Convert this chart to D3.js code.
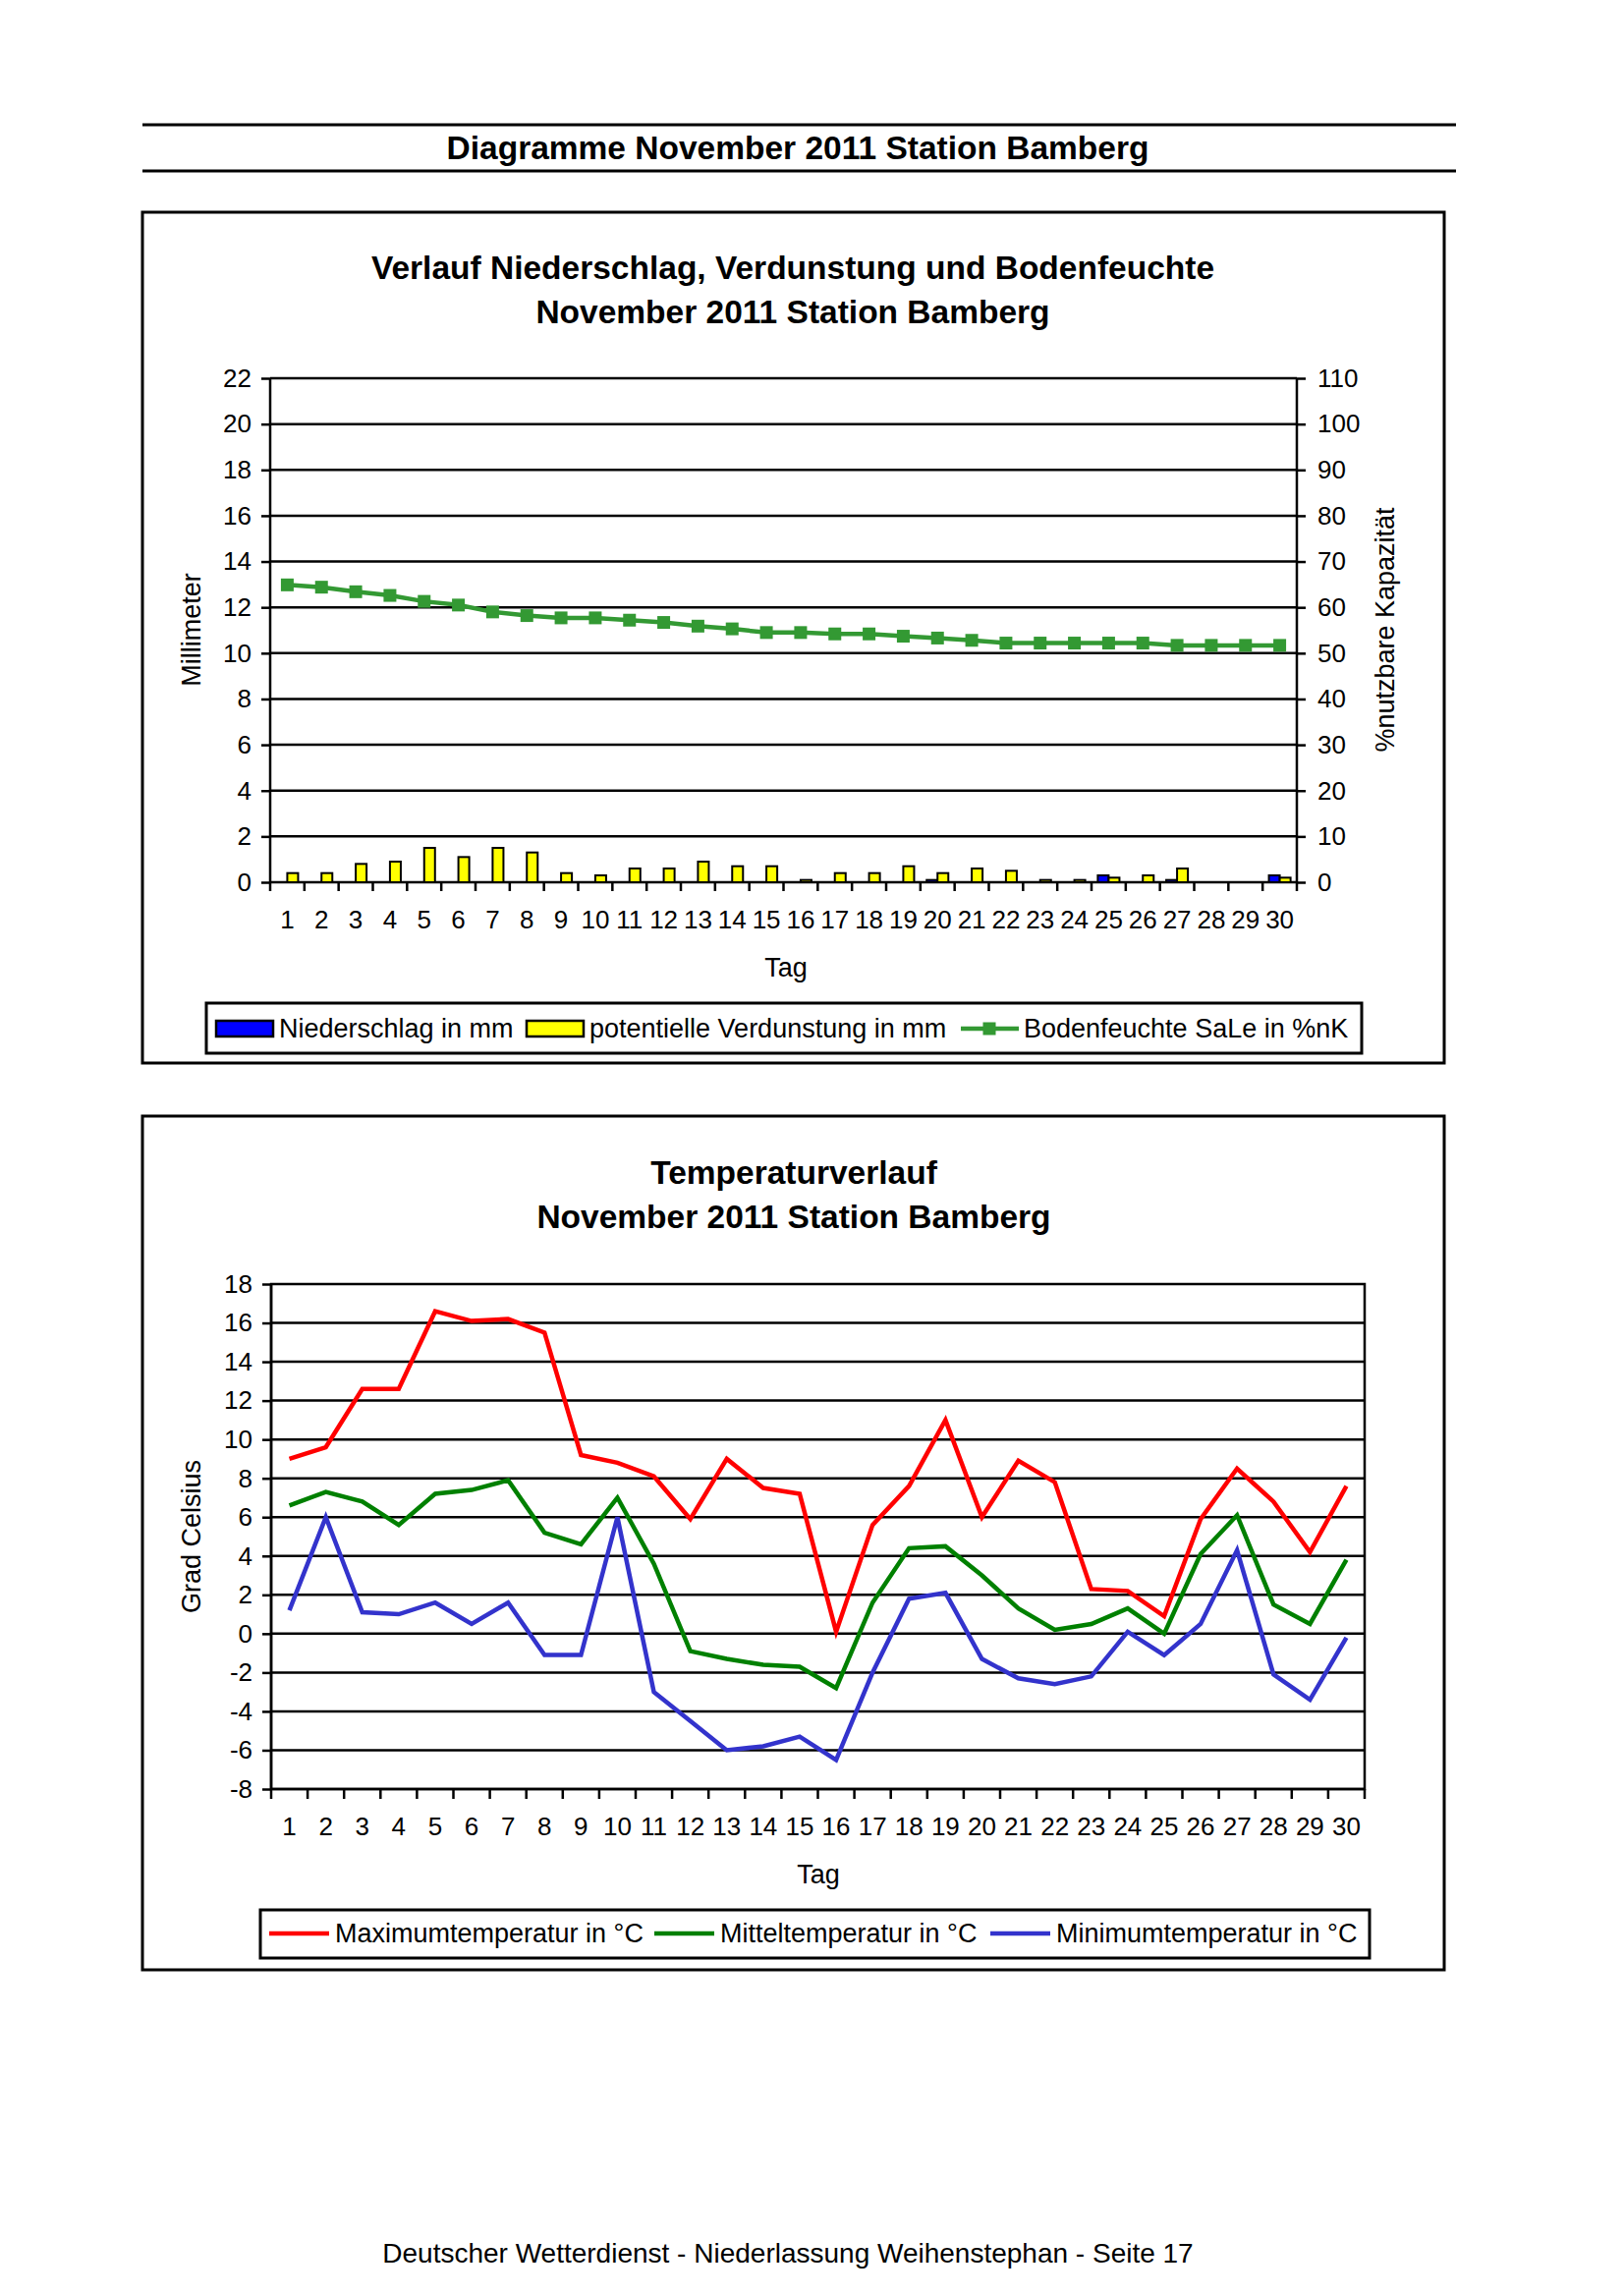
<!DOCTYPE html>
<html><head><meta charset="utf-8">
<script src="https://cdn.jsdelivr.net/npm/d3@7/dist/d3.min.js"></script>
<style>
body{margin:0;background:#fff}
svg{display:block}
text{font-family:Arial,"Liberation Sans",Helvetica,sans-serif;fill:#000}
</style>
</head><body>
<svg id="page" width="1653" height="2337"></svg>
<script>
// ---------- DATA ----------
const days = ["1","2","3","4","5","6","7","8","9","10","11","12","13","14","15","16","17","18","19","20","21","22","23","24","25","26","27","28","29","30"];
// Niederschlag in mm
const niederschlag = [0,0,0,0,0,0,0,0,0,0,0,0,0,0,0,0,0,0,0,0.1,0,0,0,0,0.3,0,0.1,0,0,0.3];
// potentielle Verdunstung in mm
const verdunstung = [0.4,0.4,0.8,0.9,1.5,1.1,1.5,1.3,0.4,0.3,0.6,0.6,0.9,0.7,0.7,0.1,0.4,0.4,0.7,0.4,0.6,0.5,0.1,0.1,0.2,0.3,0.6,0,0,0.2];
// Bodenfeuchte SaLe in %nK
const bodenfeuchte = [64.9,64.4,63.4,62.6,61.3,60.5,59.0,58.2,57.7,57.7,57.2,56.7,55.9,55.3,54.5,54.5,54.2,54.2,53.7,53.3,52.8,52.2,52.2,52.2,52.2,52.2,51.7,51.7,51.7,51.7];
// Temperatures in °C
const tMax    = [9.0,9.6,12.6,12.6,16.6,16.1,16.2,15.5,9.2,8.8,8.1,5.9,9.0,7.5,7.2,0.1,5.6,7.6,11.0,6.0,8.9,7.8,2.3,2.2,0.9,5.9,8.5,6.8,4.2,7.6];
const tMittel = [6.6,7.3,6.8,5.6,7.2,7.4,7.9,5.2,4.6,7.0,3.6,-0.9,-1.3,-1.6,-1.7,-2.8,1.6,4.4,4.5,3.0,1.3,0.2,0.5,1.3,0.0,4.1,6.1,1.5,0.5,3.8];
const tMin    = [1.2,6.0,1.1,1.0,1.6,0.5,1.6,-1.1,-1.1,6.0,-3.0,-4.5,-6.0,-5.8,-5.3,-6.5,-2.0,1.8,2.1,-1.3,-2.3,-2.6,-2.2,0.1,-1.1,0.5,4.3,-2.1,-3.4,-0.2];
// tick labels
const mmTicks = [0,2,4,6,8,10,12,14,16,18,20,22];
const pctTicks = [0,10,20,30,40,50,60,70,80,90,100,110];
const tempTicks = [-8,-6,-4,-2,0,2,4,6,8,10,12,14,16,18];
// legend labels
const legend1 = ["Niederschlag in mm","potentielle Verdunstung in mm","Bodenfeuchte SaLe in %nK"];
const legend2 = ["Maximumtemperatur in °C","Mitteltemperatur in °C","Minimumtemperatur in °C"];

// ---------- DRAW ----------
const svg = d3.select("#page");
const F = "Arial, 'Liberation Sans', sans-serif";
const fmt = d => String(d);   // plain hyphen-minus like the original
const TF = 33.5;              // bold title size

// Header
svg.append("line").attr("x1",145).attr("x2",1482).attr("y1",127).attr("y2",127).attr("stroke","#000").attr("stroke-width",3);
svg.append("line").attr("x1",145).attr("x2",1482).attr("y1",174).attr("y2",174).attr("stroke","#000").attr("stroke-width",3);
svg.append("text").attr("x",812).attr("y",162).attr("text-anchor","middle").attr("font-size",TF).attr("font-weight","bold")
  .text("Diagramme November 2011 Station Bamberg");

// Footer
svg.append("text").attr("x",802).attr("y",2303).attr("text-anchor","middle").attr("font-size",28)
  .text("Deutscher Wetterdienst - Niederlassung Weihenstephan - Seite 17");

// ===== Chart 1 =====
const c1 = svg.append("g");
c1.append("rect").attr("x",145).attr("y",216).attr("width",1325).attr("height",866).attr("fill","none").attr("stroke","#000").attr("stroke-width",3);
c1.append("text").attr("x",807).attr("y",284).attr("text-anchor","middle").attr("font-size",TF).attr("font-weight","bold")
  .text("Verlauf Niederschlag, Verdunstung und Bodenfeuchte");
c1.append("text").attr("x",807).attr("y",329).attr("text-anchor","middle").attr("font-size",TF).attr("font-weight","bold")
  .text("November 2011 Station Bamberg");

const x1 = d3.scaleBand().domain(days).range([275,1320]).padding(0);
const y1 = d3.scaleLinear().domain([0,22]).range([898,385]);
const y1r = d3.scaleLinear().domain([0,110]).range([898,385]);
const sub = d3.scaleBand().domain(["n","v"]).range([0,x1.bandwidth()]).paddingInner(0).paddingOuter(0.58);

// gridlines
c1.append("g").selectAll("line").data(mmTicks.filter(d=>d>0)).join("line")
  .attr("x1",275).attr("x2",1320).attr("y1",d=>y1(d)).attr("y2",d=>y1(d))
  .attr("stroke","#000").attr("stroke-width",2.5);

// left axis
const axL1 = c1.append("g").attr("transform","translate(275,0)")
  .call(d3.axisLeft(y1).tickValues(mmTicks).tickSize(9).tickPadding(10).tickFormat(fmt));
// right axis
const axR1 = c1.append("g").attr("transform","translate(1320,0)")
  .call(d3.axisRight(y1r).tickValues(pctTicks).tickSize(9).tickPadding(12).tickFormat(fmt));
// bottom axis (ticks at category boundaries)
const axB1 = c1.append("g").attr("transform","translate(0,898)")
  .call(d3.axisBottom(x1).tickSize(0).tickPadding(29));
c1.append("g").selectAll("line").data(days.concat(["end"])).join("line")
  .attr("x1",(d,i)=> i<days.length ? x1(d) : x1(days[days.length-1])+x1.bandwidth())
  .attr("x2",(d,i)=> i<days.length ? x1(d) : x1(days[days.length-1])+x1.bandwidth())
  .attr("y1",898).attr("y2",907).attr("stroke","#000").attr("stroke-width",2.5);

[axL1,axR1,axB1].forEach(a=>{
  a.selectAll("path.domain").attr("stroke","#000").attr("stroke-width",2.5);
  a.selectAll(".tick line").attr("stroke","#000").attr("stroke-width",2.5);
  a.selectAll("text").attr("font-family",F).attr("font-size",26).attr("fill","#000");
});
axL1.select("path.domain").attr("d","M0,385V898");
axR1.select("path.domain").attr("d","M0,385V898");
axB1.select("path.domain").attr("d","M275,0H1320");
axB1.selectAll("text").attr("font-size",26);

// bars
const barG = c1.append("g");
barG.selectAll("rect.n").data(niederschlag).join("rect").attr("class","n")
  .attr("x",(d,i)=>x1(days[i])+sub("n")).attr("width",sub.bandwidth())
  .attr("y",d=>y1(d)).attr("height",d=>y1(0)-y1(d))
  .attr("fill","#0000ff").attr("stroke","#000").attr("stroke-width",2)
  .attr("display",d=>d>0?null:"none");
barG.selectAll("rect.v").data(verdunstung).join("rect").attr("class","v")
  .attr("x",(d,i)=>x1(days[i])+sub("v")).attr("width",sub.bandwidth())
  .attr("y",d=>y1(d)).attr("height",d=>y1(0)-y1(d))
  .attr("fill","#ffff00").attr("stroke","#000").attr("stroke-width",2)
  .attr("display",d=>d>0?null:"none");

// soil moisture line
const green1 = "#339933";
const line1 = d3.line().x((d,i)=>x1(days[i])+x1.bandwidth()/2).y(d=>y1r(d));
c1.append("path").datum(bodenfeuchte).attr("d",line1).attr("fill","none").attr("stroke",green1).attr("stroke-width",4.5);
c1.append("g").selectAll("rect").data(bodenfeuchte).join("rect")
  .attr("x",(d,i)=>x1(days[i])+x1.bandwidth()/2-6.5).attr("y",d=>y1r(d)-6.5)
  .attr("width",13).attr("height",13).attr("fill",green1);

// axis titles
c1.append("text").attr("transform","translate(204,641) rotate(-90)").attr("text-anchor","middle").attr("font-size",27).text("Millimeter");
c1.append("text").attr("transform","translate(1419,641) rotate(-90)").attr("text-anchor","middle").attr("font-size",27).text("%nutzbare Kapazität");
c1.append("text").attr("x",800).attr("y",994).attr("text-anchor","middle").attr("font-size",27).text("Tag");

// legend 1
const lg1 = c1.append("g");
lg1.append("rect").attr("x",210).attr("y",1021).attr("width",1176).attr("height",51).attr("fill","#fff").attr("stroke","#000").attr("stroke-width",3);
lg1.append("rect").attr("x",220).attr("y",1039).attr("width",58).attr("height",16).attr("fill","#0000ff").attr("stroke","#000").attr("stroke-width",2.5);
lg1.append("text").attr("x",284).attr("y",1056).attr("font-size",27).text(legend1[0]);
lg1.append("rect").attr("x",536).attr("y",1039).attr("width",58).attr("height",16).attr("fill","#ffff00").attr("stroke","#000").attr("stroke-width",2.5);
lg1.append("text").attr("x",600).attr("y",1056).attr("font-size",27).text(legend1[1]);
lg1.append("line").attr("x1",978).attr("x2",1037).attr("y1",1047).attr("y2",1047).attr("stroke",green1).attr("stroke-width",4.5);
lg1.append("rect").attr("x",1000.5).attr("y",1040.5).attr("width",13).attr("height",13).attr("fill",green1);
lg1.append("text").attr("x",1042).attr("y",1056).attr("font-size",27).text(legend1[2]);

// ===== Chart 2 =====
const c2 = svg.append("g");
c2.append("rect").attr("x",145).attr("y",1136).attr("width",1325).attr("height",869).attr("fill","none").attr("stroke","#000").attr("stroke-width",3);
c2.append("text").attr("x",808).attr("y",1205).attr("text-anchor","middle").attr("font-size",TF).attr("font-weight","bold").text("Temperaturverlauf");
c2.append("text").attr("x",808).attr("y",1250).attr("text-anchor","middle").attr("font-size",TF).attr("font-weight","bold").text("November 2011 Station Bamberg");

const x2 = d3.scaleBand().domain(days).range([276,1389]).padding(0);
const y2 = d3.scaleLinear().domain([-8,18]).range([1821,1307]);

c2.append("g").selectAll("line").data(tempTicks.filter(d=>d>-8 && d<18)).join("line")
  .attr("x1",276).attr("x2",1389).attr("y1",d=>y2(d)).attr("y2",d=>y2(d))
  .attr("stroke","#000").attr("stroke-width",2.5);
c2.append("rect").attr("x",276).attr("y",1307).attr("width",1113).attr("height",514).attr("fill","none").attr("stroke","#000").attr("stroke-width",2.5);

const axL2 = c2.append("g").attr("transform","translate(276,0)")
  .call(d3.axisLeft(y2).tickValues(tempTicks).tickSize(9).tickPadding(10).tickFormat(fmt));
const axB2 = c2.append("g").attr("transform","translate(0,1821)")
  .call(d3.axisBottom(x2).tickSize(0).tickPadding(29));
c2.append("g").selectAll("line").data(days.concat(["end"])).join("line")
  .attr("x1",(d,i)=> i<days.length ? x2(d) : x2(days[days.length-1])+x2.bandwidth())
  .attr("x2",(d,i)=> i<days.length ? x2(d) : x2(days[days.length-1])+x2.bandwidth())
  .attr("y1",1821).attr("y2",1831).attr("stroke","#000").attr("stroke-width",2.5);
[axL2,axB2].forEach(a=>{
  a.selectAll("path.domain").attr("stroke","#000").attr("stroke-width",2.5);
  a.selectAll(".tick line").attr("stroke","#000").attr("stroke-width",2.5);
  a.selectAll("text").attr("font-family",F).attr("font-size",26).attr("fill","#000");
});
axL2.select("path.domain").attr("d","M0,1307V1821");
axB2.select("path.domain").attr("d","M276,0H1389");

const cRed = "#ff0000", cGreen = "#008000", cBlue = "#3333cc";
const line2 = d3.line().x((d,i)=>x2(days[i])+x2.bandwidth()/2).y(d=>y2(d));
[[tMax,cRed],[tMittel,cGreen],[tMin,cBlue]].forEach(([arr,col])=>{
  c2.append("path").datum(arr).attr("d",line2).attr("fill","none").attr("stroke",col).attr("stroke-width",4.5).attr("stroke-linejoin","miter");
});

c2.append("text").attr("transform","translate(204,1564) rotate(-90)").attr("text-anchor","middle").attr("font-size",27).text("Grad Celsius");
c2.append("text").attr("x",833).attr("y",1917).attr("text-anchor","middle").attr("font-size",27).text("Tag");

const lg2 = c2.append("g");
lg2.append("rect").attr("x",265).attr("y",1944).attr("width",1129).attr("height",49).attr("fill","#fff").attr("stroke","#000").attr("stroke-width",3);
[[274,341,cRed],[666,733,cGreen],[1008,1075,cBlue]].forEach(([lx,tx,col],i)=>{
  lg2.append("line").attr("x1",lx).attr("x2",lx+61).attr("y1",1968).attr("y2",1968).attr("stroke",col).attr("stroke-width",4.5);
  lg2.append("text").attr("x",tx).attr("y",1977).attr("font-size",27).text(legend2[i]);
});
</script>
</body></html>
